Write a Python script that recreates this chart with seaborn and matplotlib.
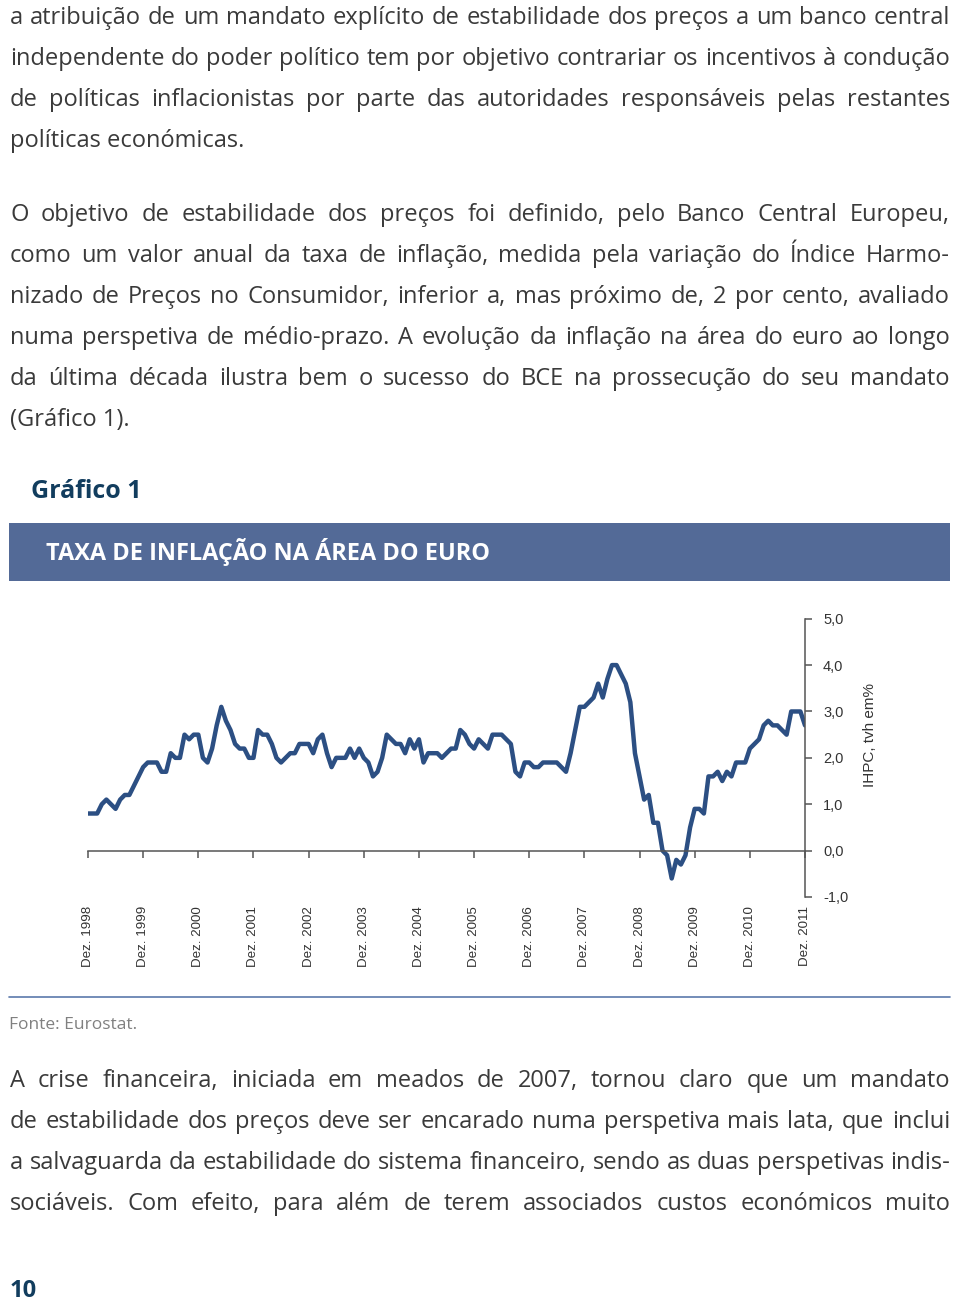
import matplotlib
matplotlib.use('Agg')

import numpy as np
import matplotlib.pyplot as plt
from matplotlib.transforms import blended_transform_factory
from matplotlib.patches import Rectangle
import seaborn as sns

# Euro area HICP, annual rate of change (%), Dec 1998 - Dec 2011
ihpc = [0.8,
        0.8, 0.8, 1.0, 1.1, 1.0, 0.9, 1.1, 1.2, 1.2, 1.4, 1.6, 1.8,   # 1999
        1.9, 1.9, 1.9, 1.7, 1.7, 2.1, 2.0, 2.0, 2.5, 2.4, 2.5, 2.5,   # 2000
        2.0, 1.9, 2.2, 2.7, 3.1, 2.8, 2.6, 2.3, 2.2, 2.2, 2.0, 2.0,   # 2001
        2.6, 2.5, 2.5, 2.3, 2.0, 1.9, 2.0, 2.1, 2.1, 2.3, 2.3, 2.3,   # 2002
        2.1, 2.4, 2.5, 2.1, 1.8, 2.0, 2.0, 2.0, 2.2, 2.0, 2.2, 2.0,   # 2003
        1.9, 1.6, 1.7, 2.0, 2.5, 2.4, 2.3, 2.3, 2.1, 2.4, 2.2, 2.4,   # 2004
        1.9, 2.1, 2.1, 2.1, 2.0, 2.1, 2.2, 2.2, 2.6, 2.5, 2.3, 2.2,   # 2005
        2.4, 2.3, 2.2, 2.5, 2.5, 2.5, 2.4, 2.3, 1.7, 1.6, 1.9, 1.9,   # 2006
        1.8, 1.8, 1.9, 1.9, 1.9, 1.9, 1.8, 1.7, 2.1, 2.6, 3.1, 3.1,   # 2007
        3.2, 3.3, 3.6, 3.3, 3.7, 4.0, 4.0, 3.8, 3.6, 3.2, 2.1, 1.6,   # 2008
        1.1, 1.2, 0.6, 0.6, 0.0, -0.1, -0.6, -0.2, -0.3, -0.1, 0.5, 0.9,  # 2009
        0.9, 0.8, 1.6, 1.6, 1.7, 1.5, 1.7, 1.6, 1.9, 1.9, 1.9, 2.2,   # 2010
        2.3, 2.4, 2.7, 2.8, 2.7, 2.7, 2.6, 2.5, 3.0, 3.0, 3.0, 2.7]   # 2011

year_labels = ['Dez. %d' % y for y in range(1998, 2012)]
y_ticks = [-1, 0, 1, 2, 3, 4, 5]
y_tick_labels = ['-1,0', '0,0', '1,0', '2,0', '3,0', '4,0', '5,0']

para1 = ["a atribuição de um mandato explícito de estabilidade dos preços a um banco central",
         "independente do poder político tem por objetivo contrariar os incentivos à condução",
         "de políticas inflacionistas por parte das autoridades responsáveis pelas restantes",
         "políticas económicas."]
para2 = ["O objetivo de estabilidade dos preços foi definido, pelo Banco Central Europeu,",
         "como um valor anual da taxa de inflação, medida pela variação do Índice Harmo-",
         "nizado de Preços no Consumidor, inferior a, mas próximo de, 2 por cento, avaliado",
         "numa perspetiva de médio-prazo. A evolução da inflação na área do euro ao longo",
         "da última década ilustra bem o sucesso do BCE na prossecução do seu mandato",
         "(Gráfico 1)."]
para3 = ["A crise financeira, iniciada em meados de 2007, tornou claro que um mandato",
         "de estabilidade dos preços deve ser encarado numa perspetiva mais lata, que inclui",
         "a salvaguarda da estabilidade do sistema financeiro, sendo as duas perspetivas indis-",
         "sociáveis. Com efeito, para além de terem associados custos económicos muito"]

sns.set_style('white')
plt.rcParams['font.family'] = ['Open Sans', 'DejaVu Sans']

W, H = 960, 1303
fig = plt.figure(figsize=(9.6, 13.03), dpi=100)
renderer = fig.canvas.get_renderer()


def fx(px):
    return px / W


def fy(py):
    return 1 - py / H


body = dict(fontsize=17, color='#3a3a3a')


def word_width(s):
    t = fig.text(0, 0, s, **body)
    w = t.get_window_extent(renderer).width
    t.remove()
    return w


def put_paragraph(lines, first_base, step=41):
    # justified lines, last one left aligned
    for i, line in enumerate(lines):
        yb = fy(first_base + i * step)
        if i == len(lines) - 1 and not line.endswith('muito'):
            fig.text(fx(10), yb, line, va='baseline', **body)
            continue
        words = line.split(' ')
        widths = [word_width(w) for w in words]
        gap = (940 - sum(widths)) / (len(words) - 1)
        x = 10
        for w, wd in zip(words, widths):
            fig.text(fx(x), yb, w, va='baseline', **body)
            x += wd + gap


put_paragraph(para1, 24)
put_paragraph(para2, 221)
put_paragraph(para3, 1087)

# chart heading and banner
fig.text(fx(31), fy(498), 'Gráfico 1', fontsize=18, fontweight='bold', color='#123d5e', va='baseline')
fig.patches.append(Rectangle((fx(9), fy(581)), fx(941), 58 / H, transform=fig.transFigure,
                             facecolor='#536a97', edgecolor='none'))
fig.text(fx(46), fy(560), 'TAXA DE INFLAÇÃO NA ÁREA DO EURO', fontsize=16.9, fontweight='bold',
         color='white', va='baseline')

# line chart
narrow = ['Liberation Sans', 'DejaVu Sans']
ax = fig.add_axes([fx(88), fy(897), fx(805) - fx(88), (897 - 618.7) / H])
months = np.arange(len(ihpc))
sns.lineplot(x=months, y=ihpc, ax=ax, color='#2c4f83', linewidth=3.2)
ax.set_xlim(0, 156)
ax.set_ylim(-1, 5)
ax.patch.set_alpha(0)
for s in ['left', 'top']:
    ax.spines[s].set_visible(False)
ax.spines['bottom'].set_position(('data', 0))
ax.spines['right'].set_visible(True)
for s in ['bottom', 'right']:
    ax.spines[s].set_color('#555555')
    ax.spines[s].set_linewidth(1.1)
ax.yaxis.tick_right()
ax.set_yticks(y_ticks)
ax.set_yticklabels(y_tick_labels, family=narrow)
ax.tick_params(axis='y', direction='out', length=5, width=1.1, color='#555555',
               pad=8, labelsize=10.5, labelcolor='#333333', right=True, left=False)
ax.set_xticks(np.arange(0, 157, 12))
ax.set_xticklabels([])
ax.tick_params(axis='x', direction='out', length=5, width=1.1, color='#555555', bottom=True)
ax.set_xlabel('')
ax.set_ylabel('')

trans = blended_transform_factory(ax.transData, fig.transFigure)
for i, lab in enumerate(year_labels):
    ax.text(i * 12, fy(906), lab, transform=trans, rotation=90, ha='center', va='top',
            fontsize=9.6, color='#333333', family=narrow, clip_on=False)

fig.text(fx(870), fy(735), 'IHPC, tvh em%', rotation=90, ha='center', va='center',
         fontsize=11, color='#333333', family=narrow)

# source rule and note
fig.add_artist(plt.Line2D([fx(9), fx(950)], [fy(997), fy(997)], color='#5b79ab', linewidth=1.2))
fig.text(fx(9), fy(1029), 'Fonte: Eurostat.', fontsize=12.5, color='#808080', va='baseline')

fig.text(fx(10), fy(1297), '10', fontsize=17, fontweight='bold', color='#123d5e', va='baseline')

fig.savefig('out.png', dpi=100)
